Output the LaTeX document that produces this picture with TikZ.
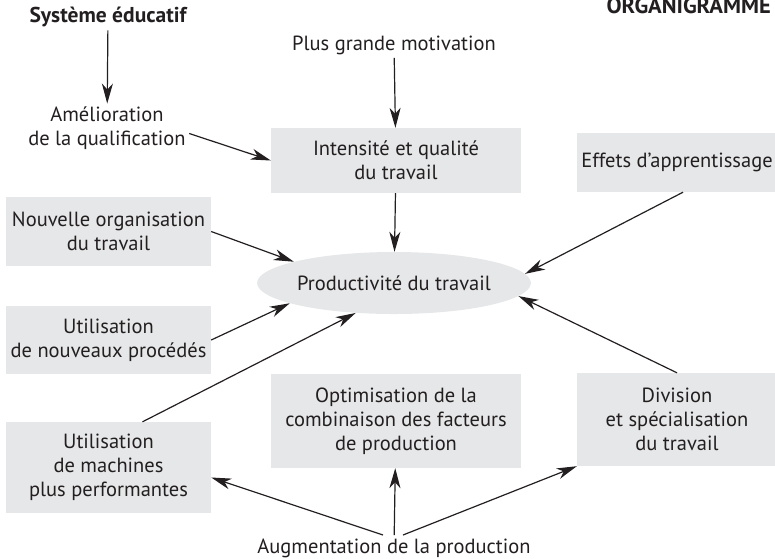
\documentclass[tikz,border=0pt]{standalone}
\usepackage{fontspec}
\setmainfont{PT Sans}
\usetikzlibrary{arrows.meta,shapes.geometric}
\definecolor{boxgray}{HTML}{E6E7E8}
\definecolor{ink}{HTML}{231F20}
\begin{document}
\begin{tikzpicture}[x=1pt,y=-1pt,
    every node/.style={text=ink,align=center,font=\fontsize{20.5}{24}\selectfont},
    box/.style={fill=boxgray,inner sep=0pt},
    arr/.style={-{Stealth[length=20pt,width=11pt,inset=6pt]},draw=ink,line width=1.2pt}]
  \useasboundingbox (0,0) rectangle (775,558);
  \node[font=\fontsize{21.5}{24}\selectfont\bfseries] (sys) at (108,17) {Système éducatif};
  \node[anchor=base east,inner sep=0pt,font=\fontsize{22.5}{24}\selectfont\bfseries] (org) at (771,13) {ORGANIGRAMME};
  \node (amel) at (107,128.5) {Amélioration\\de la qualification};
  \node (motiv) at (394,45) {Plus grande motivation};
  \node[box,minimum width=250pt,minimum height=65pt] (intens) at (396,160.5) {Intensité et qualité\\du travail};
  \node[box,minimum width=200pt,minimum height=59pt] (eff) at (677,162.5) {Effets d’apprentissage};
  \node[box,minimum width=205pt,minimum height=69pt] (nouv) at (108.5,231.5) {Nouvelle organisation\\du travail};
  \node[box,ellipse,minimum width=246pt,minimum height=62pt] (prod) at (394,283) {Productivité du travail};
  \node[box,minimum width=205pt,minimum height=68pt] (proc) at (108.5,340) {Utilisation\\de nouveaux procédés};
  \node[box,minimum width=205pt,minimum height=91pt] (mach) at (108.5,467.5) {Utilisation\\de machines\\plus performantes};
  \node[box,minimum width=250pt,minimum height=94pt] (optim) at (396,421) {Optimisation de la\\combinaison des facteurs\\de production};
  \node[box,minimum width=200pt,minimum height=93pt] (div) at (677,419.5) {Division\\et spécialisation\\du travail};
  \node (aug) at (394,548) {Augmentation de la production};

  \draw[arr] (sys) -- (amel);
  \draw[arr] (motiv) -- (intens);
  \draw[arr] ([yshift=-5pt]amel.east) -- (intens.west);
  \draw[arr] (intens) -- (prod);
  \draw[arr] (nouv.east) -- (prod.168);
  \draw[arr] (proc.east) -- (prod.191);
  \draw[arr] ([xshift=34pt]mach.north) -- (prod.218);
  \draw[arr] ([xshift=6pt]eff.south) -- (prod.4);
  \draw[arr] (div.north) -- (prod.-6);
  \draw[arr] ([xshift=-11pt]aug.north) -- ([yshift=-10pt]mach.east);
  \draw[arr] (aug) -- (optim);
  \draw[arr] ([xshift=9pt]aug.north) -- (div.south west);
\end{tikzpicture}
\end{document}
